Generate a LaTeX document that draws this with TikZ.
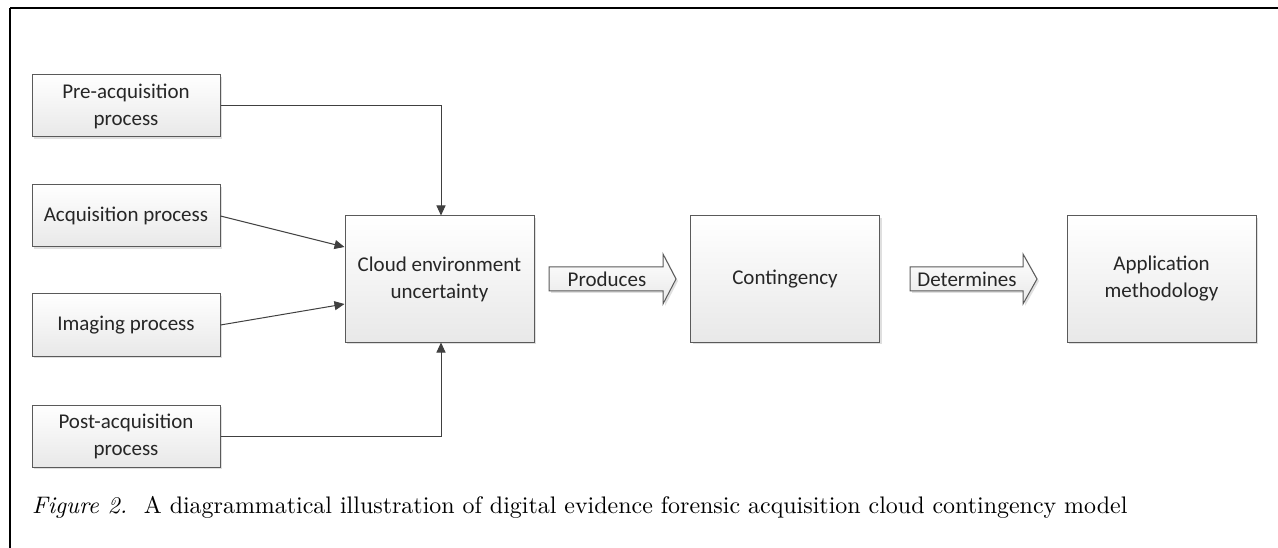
\documentclass[tikz,border=0pt]{standalone}
\usepackage{fontspec}
\newfontfamily\boxfont{Carlito}
\newfontfamily\capfont{lmroman10-regular.otf}[ItalicFont=lmroman10-italic.otf]
\usetikzlibrary{shadows,arrows.meta}
\definecolor{boxline}{HTML}{5A5A5A}
\definecolor{conn}{HTML}{404040}
\definecolor{txt}{HTML}{262626}
\tikzset{
  procbox/.style={draw=boxline, line width=1pt, top color=white, bottom color=black!9,
    minimum width=188pt, minimum height=62pt, align=center, text=txt,
    font=\boxfont\fontsize{21}{27}\selectfont,
    drop shadow={shadow xshift=2pt, shadow yshift=-2pt, fill=black!25, opacity=0.5}},
  bigbox/.style={procbox, minimum height=126pt, minimum width=189pt},
  conline/.style={draw=conn, line width=1pt, -{Triangle[length=10pt,width=9pt]}},
  blockarrow/.style={draw=boxline, line width=1pt, top color=white, bottom color=black!9,
    drop shadow={shadow xshift=2pt, shadow yshift=-2pt, fill=black!25, opacity=0.5}},
  arrowlabel/.style={text=txt, font=\boxfont\fontsize{21}{25}\selectfont, inner sep=0pt}
}
\begin{document}
\begin{tikzpicture}[x=1pt,y=-1pt]
\useasboundingbox (0,0) rectangle (1278,548);
% frame
\draw[line width=2.5pt] (10,8) -- (1280,8);
\draw[line width=2pt] (10,8) -- (10,550);

\node[procbox] (pre) at (126,106) {Pre-acquisition\\process};
\node[procbox] (acq) at (126,216) {Acquisition process};
\node[procbox] (img) at (126,325) {Imaging process};
\node[procbox] (post) at (126,436) {Post-acquisition\\process};
\node[bigbox] (cloud) at (439.5,279) {Cloud environment\\uncertainty};
\node[bigbox] (cont) at (785,279) {Contingency};
\node[bigbox] (app) at (1161.5,279) {Application\\methodology};

\coordinate (preturn) at (441,106);
\coordinate (postturn) at (441,436);
\draw[conline] (pre.east) -- (preturn) -- (cloud.north -| preturn);
\draw[conline] (post.east) -- (postturn) -- (cloud.south -| postturn);
\draw[conline] (acq.east) -- (cloud.west |- 0,247);
\draw[conline] (img.east) -- (cloud.west |- 0,304);

% block arrows
\draw[blockarrow] (549,267) -- (663,267) -- (663,254) -- (676,279) -- (663,304) -- (663,291) -- (549,291) -- cycle;
\node[arrowlabel] (produces) at (607,279) {Produces};
\draw[blockarrow] (910,267) -- (1023,267) -- (1023,254) -- (1037,279) -- (1023,304) -- (1023,291) -- (910,291) -- cycle;
\node[arrowlabel] (determines) at (967,279) {Determines};

\node[anchor=base west, inner sep=0pt] (caption) at (32,513)
  {\resizebox{1095pt}{!}{\capfont\fontsize{10}{12}\selectfont\textit{Figure 2.}\hspace{0.7em}A diagrammatical illustration of digital evidence forensic acquisition cloud contingency model}};
\end{tikzpicture}
\end{document}
